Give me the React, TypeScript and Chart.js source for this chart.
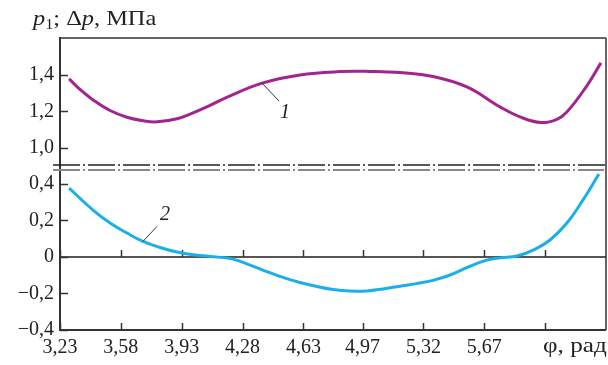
import React, { useEffect, useRef } from 'react';
import { Chart, registerables } from 'chart.js';

Chart.register(...registerables);

// ---- data ----
const phiTop = [3.282, 3.35, 3.42, 3.518, 3.615, 3.707, 3.788, 3.903, 3.995, 4.093, 4.208, 4.392, 4.61, 4.84, 5.013, 5.185, 5.375, 5.57, 5.76, 5.875, 5.996, 6.088, 6.145, 6.249, 6.341];
const p1Values = [1.378, 1.316, 1.263, 1.205, 1.168, 1.149, 1.143, 1.16, 1.192, 1.233, 1.285, 1.355, 1.4, 1.418, 1.419, 1.413, 1.391, 1.334, 1.225, 1.17, 1.139, 1.157, 1.197, 1.325, 1.466];

const phiBottom = [3.282, 3.42, 3.518, 3.615, 3.707, 3.805, 3.903, 3.995, 4.093, 4.225, 4.323, 4.42, 4.512, 4.61, 4.708, 4.8, 4.898, 4.995, 5.087, 5.185, 5.28, 5.375, 5.47, 5.57, 5.674, 5.76, 5.858, 5.961, 6.048, 6.145, 6.237, 6.329];
const dpValues = [0.377, 0.257, 0.186, 0.131, 0.085, 0.052, 0.027, 0.012, 0.003, -0.012, -0.045, -0.08, -0.112, -0.14, -0.162, -0.178, -0.187, -0.186, -0.175, -0.16, -0.146, -0.128, -0.1, -0.058, -0.02, -0.005, 0.005, 0.042, 0.093, 0.186, 0.311, 0.454];

const xTicks = [3.23, 3.58, 3.93, 4.28, 4.63, 4.97, 5.32, 5.67, 6.02];
const xTickLabels = ['3,23', '3,58', '3,93', '4,28', '4,63', '4,97', '5,32', '5,67', ''];
const yTopTicks = [1.0, 1.2, 1.4];
const yTopLabels = ['1,0', '1,2', '1,4'];
const yBottomTicks = [-0.4, -0.2, 0, 0.2, 0.4];
const yBottomLabels = ['\u22120,4', '\u22120,2', '0', '0,2', '0,4'];

const xTitle = 'φ, рад';
const curveLabel1 = '1';
const curveLabel2 = '2';

const SERIF = '"Liberation Serif", "Times New Roman", serif';

const decorPlugin = {
  id: 'decor',
  beforeDatasetsDraw(chart: any) {
    const ctx = chart.ctx;
    const { left, right, bottom } = chart.chartArea;
    const xs = chart.scales.x;
    const yT = chart.scales.yTop;
    const yB = chart.scales.yBottom;
    const seg = (x1: number, y1: number, x2: number, y2: number) => {
      ctx.beginPath();
      ctx.moveTo(x1, y1);
      ctx.lineTo(x2, y2);
      ctx.stroke();
    };
    ctx.save();
    const y0 = yB.getPixelForValue(0);
    ctx.strokeStyle = '#555';
    ctx.lineWidth = 2;
    seg(left, y0, right, y0);
    ctx.strokeStyle = '#333';
    ctx.lineWidth = 1.5;
    xTicks.forEach((v) => {
      const px = Math.round(xs.getPixelForValue(v)) + 0.5;
      seg(px, y0, px, y0 - 7);
      seg(px, bottom, px, bottom - 7);
    });
    yTopTicks.forEach((v) => {
      const py = Math.round(yT.getPixelForValue(v)) + 0.5;
      seg(left, py, left + 8, py);
    });
    yBottomTicks.forEach((v) => {
      const py = Math.round(yB.getPixelForValue(v)) + 0.5;
      seg(left, py, left + 8, py);
    });
    ctx.restore();
  },
  afterDraw(chart: any) {
    const ctx = chart.ctx;
    const { left, right, top, bottom } = chart.chartArea;
    const xs = chart.scales.x;
    const yT = chart.scales.yTop;
    const yB = chart.scales.yBottom;
    const seg = (x1: number, y1: number, x2: number, y2: number) => {
      ctx.beginPath();
      ctx.moveTo(x1, y1);
      ctx.lineTo(x2, y2);
      ctx.stroke();
    };
    ctx.save();
    // break band between the two stacked panels
    const mid = (yT.bottom + yB.top) / 2;
    const yBreakTop = mid - 2.5;
    const yBreakBot = mid + 2.5;
    ctx.fillStyle = '#fff';
    ctx.fillRect(left - 8, yBreakTop - 1, right - left + 10, yBreakBot - yBreakTop + 2);

    // frame
    ctx.strokeStyle = '#333';
    ctx.lineWidth = 1.5;
    seg(left, top, right, top);
    seg(right, top, right, bottom);
    ctx.lineWidth = 2;
    seg(left, top - 1, left, bottom);
    seg(left - 1, bottom, right, bottom);

    // dash-dot break lines
    ctx.setLineDash([27, 3, 2, 3]);
    ctx.strokeStyle = '#222';
    ctx.lineWidth = 1.3;
    seg(left - 7, yBreakTop, right, yBreakTop);
    ctx.strokeStyle = '#888';
    ctx.lineWidth = 2;
    seg(left - 7, yBreakBot, right - 2, yBreakBot);
    ctx.setLineDash([]);

    // title (slightly widened, as in the reference typeface)
    ctx.fillStyle = '#222';
    ctx.textBaseline = 'alphabetic';
    ctx.textAlign = 'left';
    ctx.save();
    ctx.translate(33, 25);
    ctx.scale(1.16, 1);
    let tx = 0;
    const put = (s: string, font: string, dy = 0) => {
      ctx.font = font;
      ctx.fillText(s, tx, dy);
      tx += ctx.measureText(s).width;
    };
    put('p', 'italic 21px ' + SERIF);
    put('1', '14px ' + SERIF, 4);
    put('; Δ', '21px ' + SERIF);
    put('p', 'italic 21px ' + SERIF);
    put(', МПа', '21px ' + SERIF);
    ctx.restore();

    // x axis title
    ctx.save();
    ctx.translate(543, 352);
    ctx.scale(1.2, 1);
    ctx.font = '21px ' + SERIF;
    ctx.fillStyle = '#222';
    ctx.fillText(xTitle, 0, 0);
    ctx.restore();

    // curve labels with leaders
    ctx.strokeStyle = '#333';
    ctx.lineWidth = 1;
    const lx1 = xs.getPixelForValue(4.392);
    const ly1 = yT.getPixelForValue(1.355);
    seg(lx1, ly1, lx1 + 17, ly1 + 18);
    ctx.font = 'italic 20px ' + SERIF;
    ctx.fillText(curveLabel1, lx1 + 18, ly1 + 35);

    const lx2 = xs.getPixelForValue(3.707);
    const ly2 = yB.getPixelForValue(0.085);
    seg(lx2, ly2, lx2 + 14, ly2 - 15);
    ctx.fillText(curveLabel2, lx2 + 17, ly2 - 21);
    ctx.restore();
  },
};

export default function App() {
  const ref = useRef<HTMLCanvasElement | null>(null);
  useEffect(() => {
    if (!ref.current) return;
    const tickFont = { family: SERIF, size: 20 };
    const chart = new Chart(ref.current, {
      type: 'line',
      data: {
        datasets: [
          {
            label: 'p1',
            data: phiTop.map((x, i) => ({ x, y: p1Values[i] })),
            yAxisID: 'yTop',
            borderColor: '#a3248f',
            borderWidth: 3,
            pointRadius: 0,
            tension: 0.4,
            fill: false,
          },
          {
            label: 'dp',
            data: phiBottom.map((x, i) => ({ x, y: dpValues[i] })),
            yAxisID: 'yBottom',
            borderColor: '#1aafe8',
            borderWidth: 3,
            pointRadius: 0,
            tension: 0.4,
            fill: false,
          },
        ],
      },
      options: {
        animation: false,
        responsive: false,
        devicePixelRatio: 1,
        layout: { padding: { top: 38, right: 2, left: 0, bottom: 0 } },
        plugins: { legend: { display: false }, tooltip: { enabled: false }, title: { display: false } },
        scales: {
          x: {
            type: 'linear',
            min: 3.23,
            max: 6.37,
            grid: { display: false, drawTicks: false },
            border: { display: false },
            afterBuildTicks: (s: any) => {
              s.ticks = xTicks.map((v) => ({ value: v }));
            },
            afterFit: (s: any) => {
              s.height = 35;
            },
            ticks: {
              autoSkip: false,
              maxRotation: 0,
              padding: 6,
              color: '#222',
              font: tickFont,
              callback: (v: any) => {
                const i = xTicks.findIndex((t) => Math.abs(t - v) < 1e-6);
                return i >= 0 ? xTickLabels[i] : '';
              },
            },
          },
          yBottom: {
            type: 'linear',
            position: 'left',
            stack: 'p',
            stackWeight: 162.5,
            min: -0.4,
            max: 0.49,
            grid: { display: false, drawTicks: false },
            border: { display: false },
            afterBuildTicks: (s: any) => {
              s.ticks = yBottomTicks.map((v) => ({ value: v }));
            },
            afterFit: (s: any) => {
              s.width = 60;
            },
            ticks: {
              autoSkip: false,
              padding: 6,
              color: '#222',
              font: tickFont,
              callback: (v: any) => {
                const i = yBottomTicks.findIndex((t) => Math.abs(t - v) < 1e-6);
                return i >= 0 ? yBottomLabels[i] : '';
              },
            },
          },
          yTop: {
            type: 'linear',
            position: 'left',
            stack: 'p',
            stackWeight: 129.5,
            min: 0.893,
            max: 1.602,
            grid: { display: false, drawTicks: false },
            border: { display: false },
            afterBuildTicks: (s: any) => {
              s.ticks = yTopTicks.map((v) => ({ value: v }));
            },
            afterFit: (s: any) => {
              s.width = 60;
            },
            ticks: {
              autoSkip: false,
              padding: 6,
              color: '#222',
              font: tickFont,
              callback: (v: any) => {
                const i = yTopTicks.findIndex((t) => Math.abs(t - v) < 1e-6);
                return i >= 0 ? yTopLabels[i] : '';
              },
            },
          },
        },
      },
      plugins: [decorPlugin],
    } as any);
    return () => chart.destroy();
  }, []);
  return (
    <div style={{ position: 'absolute', left: 0, top: 0, width: 608, height: 365, background: '#fff' }}>
      <canvas ref={ref} width={608} height={365} style={{ display: 'block' }} />
    </div>
  );
}
